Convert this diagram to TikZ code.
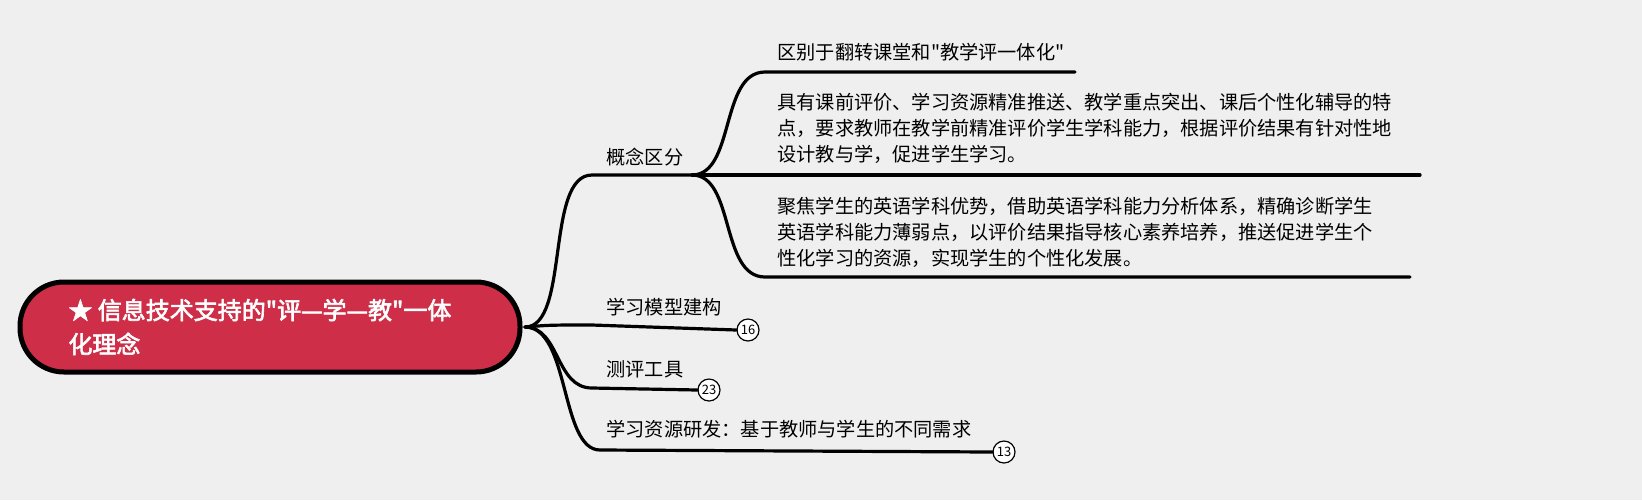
\documentclass[tikz,border=0pt]{standalone}
\usepackage{fontspec}
\newfontfamily\cjk{Noto Sans CJK SC}
\newfontfamily\cjkb[FakeBold=2.5]{Noto Sans CJK SC}
\begin{document}
\begin{tikzpicture}[x=0.5pt,y=-0.5pt,
  lbl/.style={anchor=south west,inner sep=0pt,font=\cjk\fontsize{9.6pt}{13pt}\selectfont,align=left},
  br/.style={line width=1.6pt,line cap=round},
  num/.style={circle,draw,line width=0.6pt,fill=white,inner sep=0pt,minimum size=11pt,font=\cjk\fontsize{6.5pt}{7pt}\selectfont}]
\fill[fill={rgb,255:red,239;green,239;blue,239}] (0,0) rectangle (1642,500);
\useasboundingbox (0,0) rectangle (1642,500);
\node[draw=black,line width=2.5pt,fill={rgb,255:red,206;green,46;blue,72},rounded corners=22pt,minimum width=250pt,minimum height=45pt,inner sep=0pt] (root) at (270,327) {};
\node[anchor=west,text=white,font=\cjkb\fontsize{12pt}{17pt}\selectfont,align=left,inner sep=0pt] (rt) at (68,327) {★ 信息技术支持的"评—学—教"一体\\化理念};
\coordinate (o) at (525,327);
% branch 1
\coordinate (b1) at (592,175); \coordinate (e1) at (692,175);
\node[lbl] (t1) at (606,166) {概念区分};
\draw[br] (o) .. controls (570,327) and (545,175) .. (b1) -- (e1);
\coordinate (c1) at (765,72); \coordinate (d1) at (1075,72);
\node[lbl] (s1) at (777,62) {区别于翻转课堂和"教学评一体化"};
\draw[br] (e1) .. controls (735,175) and (720,72) .. (c1) -- (d1);
\coordinate (c2) at (765,175); \coordinate (d2) at (1420,175);
\node[lbl] (s2) at (777,164) {具有课前评价、学习资源精准推送、教学重点突出、课后个性化辅导的特\\点，要求教师在教学前精准评价学生学科能力，根据评价结果有针对性地\\设计教与学，促进学生学习。};
\draw[br] (e1) -- (c2) -- (d2);
\coordinate (c3) at (765,277); \coordinate (d3) at (1410,277);
\node[lbl] (s3) at (777,268) {聚焦学生的英语学科优势，借助英语学科能力分析体系，精确诊断学生\\英语学科能力薄弱点，以评价结果指导核心素养培养，推送促进学生个\\性化学习的资源，实现学生的个性化发展。};
\draw[br] (e1) .. controls (735,175) and (720,277) .. (c3) -- (d3);
% branch 2
\coordinate (b2) at (592,325);
\node[num] (n2) at (748,330) {16};
\node[lbl] (t2) at (606,316) {学习模型建构};
\draw[br] (o) .. controls (550,325) .. (b2) -- (n2.west);
% branch 3
\coordinate (b3) at (592,388);
\node[num] (n3) at (709,390) {23};
\node[lbl] (t3) at (606,378) {测评工具};
\draw[br] (o) .. controls (560,327) and (555,388) .. (b3) -- (n3.west);
% branch 4
\coordinate (b4) at (600,450);
\node[num] (n4) at (1004,452) {13};
\node[lbl] (t4) at (606,438) {学习资源研发：基于教师与学生的不同需求};
\draw[br] (o) .. controls (570,327) and (560,450) .. (b4) -- (n4.west);
\end{tikzpicture}
\end{document}
